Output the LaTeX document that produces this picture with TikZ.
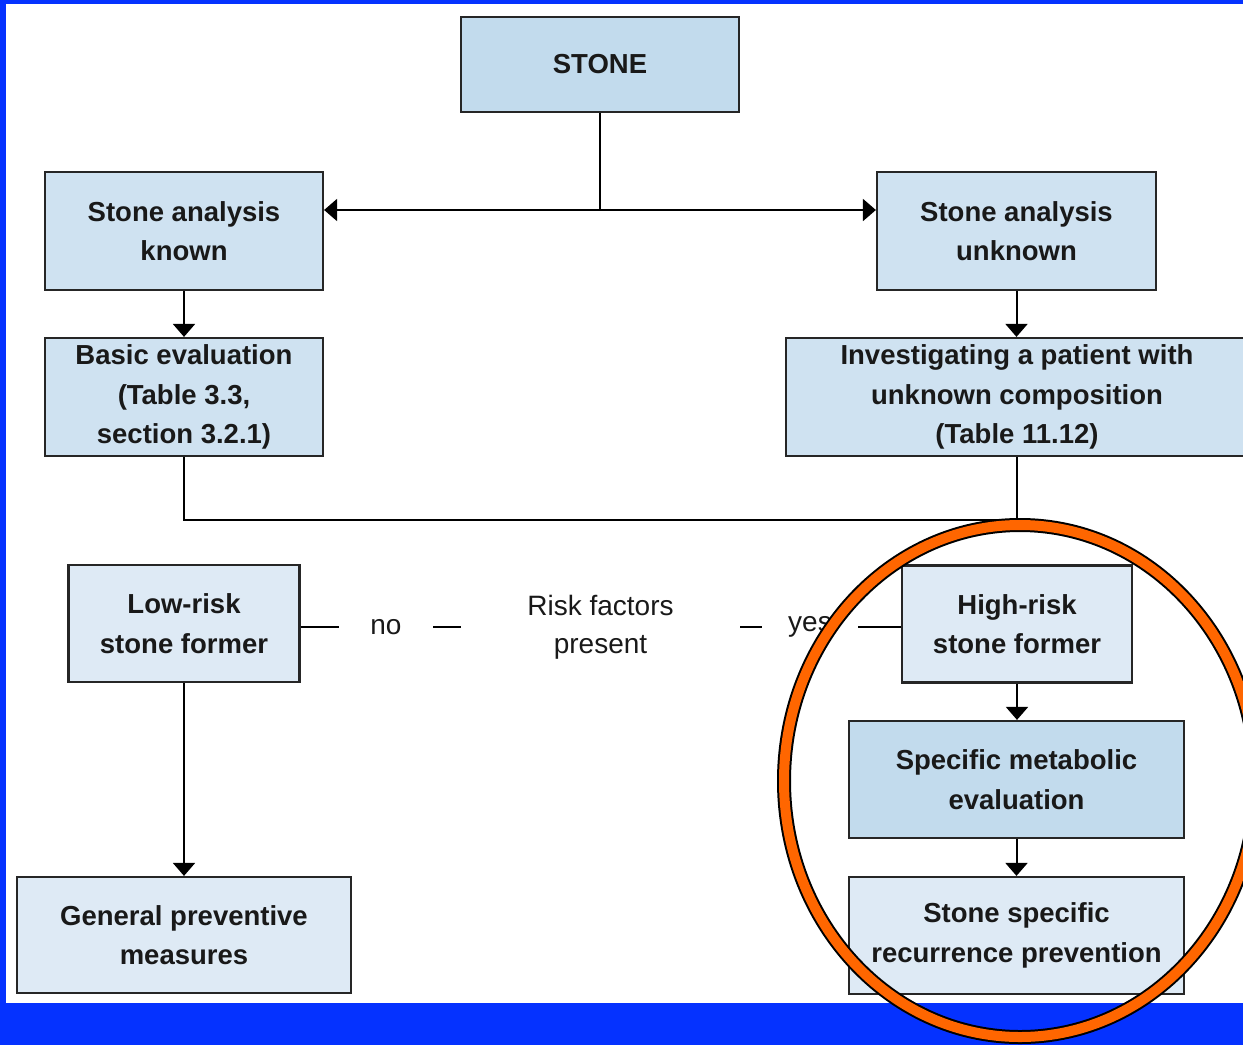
\documentclass[tikz,border=0pt]{standalone}
\usepackage{fontspec}
\setmainfont{Liberation Sans}
\usetikzlibrary{arrows.meta,positioning}
\definecolor{boxblue}{RGB}{207,226,241}
\definecolor{deepblue}{RGB}{194,219,237}
\definecolor{paleblue}{RGB}{222,234,245}
\definecolor{frameblue}{RGB}{5,50,255}
\definecolor{ringorange}{RGB}{255,102,0}
\tikzset{
  wire/.style={line width=2pt},
  arr/.style={wire, -{Triangle[length=13pt,width=22pt]}},
  box/.style={draw=black!85, line width=2.2pt, fill=boxblue, align=center, inner sep=2pt,
    font=\fontsize{27.5}{39.5}\selectfont\bfseries, text=black!90},
  deepbox/.style={box, fill=deepblue},
  palebox/.style={box, fill=paleblue},
  tag/.style={inner sep=0pt, align=center, font=\fontsize{28}{38}\selectfont, text=black!90}
}
\begin{document}
\begin{tikzpicture}[x=1pt,y=-1pt]
  \useasboundingbox (0,0) rectangle (1243,1045);
  \clip (0,0) rectangle (1243,1045);
  % frame
  \fill[frameblue] (0,0) rectangle (6,1045);
  \fill[frameblue] (0,0) rectangle (1243,4);
  \fill[frameblue] (0,1003) rectangle (1243,1045);
  % boxes
  \node[deepbox, minimum width=278pt, minimum height=95pt] (stone) at (600,64.5) {STONE};
  \node[box, minimum width=278pt, minimum height=118pt] (known) at (184,231) {Stone analysis\\known};
  \node[box, minimum width=279pt, minimum height=118pt] (unknown) at (1016.5,231) {Stone analysis\\unknown};
  \node[box, minimum width=278pt, minimum height=118pt] (basic) at (184,397) {Basic evaluation\\(Table 3.3,\\section 3.2.1)};
  \node[box, minimum width=462pt, minimum height=118pt] (invest) at (1017,397) {Investigating a patient with\\unknown composition\\(Table 11.12)};
  \node[palebox, minimum width=231pt, minimum height=117pt] (low) at (184,623.5) {Low-risk\\stone former};
  \node[palebox, minimum width=230pt, minimum height=117pt] (high) at (1017,624) {High-risk\\stone former};
  \node[palebox, minimum width=334pt, minimum height=116pt] (general) at (184,935) {General preventive\\measures};
  \node[deepbox, minimum width=335pt, minimum height=117pt] (metab) at (1016.5,779.5) {Specific metabolic\\evaluation};
  \node[palebox, minimum width=335pt, minimum height=117pt] (prevent) at (1016.5,935.5) {Stone specific\\recurrence prevention};
  % risk question
  \node[tag, minimum width=94pt] (no) at (386,627) {no};
  \node[tag, minimum width=279pt] (risk) at (600.5,627) {Risk factors\\present};
  \node[tag, minimum width=96pt] (yes) at (810,627) {yes};
  % connectors
  \coordinate (split) at (600,210);
  \coordinate (merge) at (1017,520);
  \draw[wire] (stone.south) -- (split);
  \draw[arr] (split) -- (split -| known.east);
  \draw[arr] (split) -- (split -| unknown.west);
  \draw[arr] (known) -- (basic);
  \draw[arr] (unknown.south) -- (unknown.south |- invest.north);
  \draw[wire] (basic.south) |- (merge) -- (invest.south);
  \draw[wire] (low.east |- no.west) -- (no.west);
  \draw[wire] (no.east) -- (risk.west);
  \draw[wire] (risk.east) -- (yes.west);
  \draw[wire] (yes.east) -- (yes.east -| high.west);
  \draw[arr] (low.south) -- (low.south |- general.north);
  \draw[arr] (high.south) -- (high.south |- metab.north);
  \draw[arr] (metab) -- (prevent);
  % highlight ring
  \draw[line width=14pt] (1020,781) ellipse [x radius=236pt, y radius=256pt];
  \draw[ringorange, line width=10pt] (1020,781) ellipse [x radius=236pt, y radius=256pt];
\end{tikzpicture}
\end{document}
